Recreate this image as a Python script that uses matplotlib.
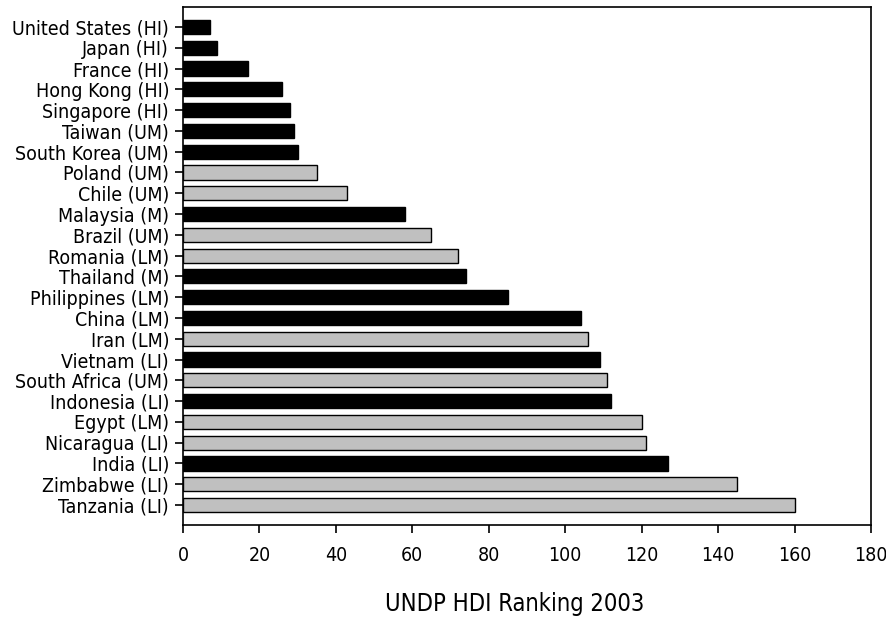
import matplotlib
matplotlib.use("Agg")
import matplotlib.pyplot as plt

plt.rcParams['font.family'] = ['DejaVu Sans']
plt.rcParams['font.stretch'] = 'condensed'

countries = ["United States (HI)", "Japan (HI)", "France (HI)", "Hong Kong (HI)",
             "Singapore (HI)", "Taiwan (UM)", "South Korea (UM)", "Poland (UM)",
             "Chile (UM)", "Malaysia (M)", "Brazil (UM)", "Romania (LM)",
             "Thailand (M)", "Philippines (LM)", "China (LM)", "Iran (LM)",
             "Vietnam (LI)", "South Africa (UM)", "Indonesia (LI)", "Egypt (LM)",
             "Nicaragua (LI)", "India (LI)", "Zimbabwe (LI)", "Tanzania (LI)"]
ranking = [7, 9, 17, 26, 28, 29, 30, 35, 43, 58, 65, 72,
           74, 85, 104, 106, 109, 111, 112, 120, 121, 127, 145, 160]
# 1 = black bar, 0 = grey bar
dark = [1, 1, 1, 1, 1, 1, 1, 0, 0, 1, 0, 0,
        1, 1, 1, 0, 1, 0, 1, 0, 0, 1, 0, 0]
xticks = [0, 20, 40, 60, 80, 100, 120, 140, 160, 180]

fig = plt.figure(figsize=(8.87, 6.22), dpi=100)
ax = fig.add_axes([0.2063, 0.156, 0.7757, 0.8327])

colors = ['black' if d else '#c0c0c0' for d in dark]
ax.barh(range(len(countries)), ranking, height=0.68, color=colors,
        edgecolor='black', linewidth=1.0)

ax.set_yticks(range(len(countries)))
ax.set_yticklabels(countries, fontsize=14)
ax.set_ylim(len(countries) - 0.04, -0.96)
ax.set_xlim(0, 180)
ax.set_xticks(xticks)
ax.set_xticklabels([str(t) for t in xticks], fontsize=14)
ax.tick_params(direction='out', length=6, width=1.2, pad=4)
ax.tick_params(axis='x', pad=9)
for s in ax.spines.values():
    s.set_linewidth(1.2)

ax.set_xlabel("UNDP HDI Ranking 2003", fontsize=17)
ax.xaxis.label.set_va('center')
ax.xaxis.set_label_coords(0.4826, -0.1525)

fig.savefig("out.png", dpi=100)
